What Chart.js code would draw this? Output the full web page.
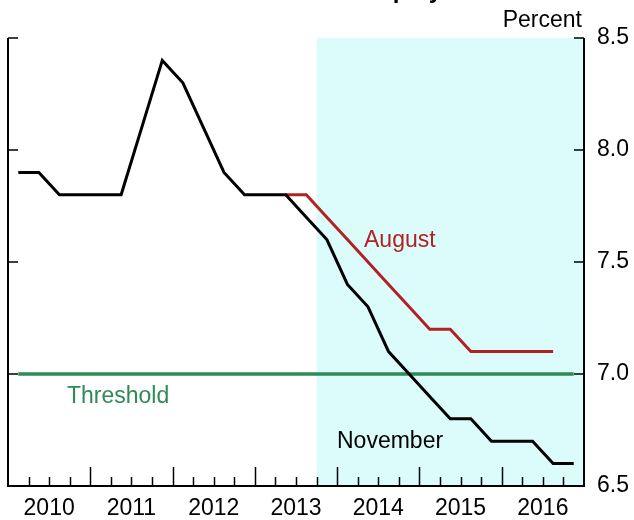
<!DOCTYPE html>
<html>
<head>
<meta charset="utf-8">
<script src="https://cdn.jsdelivr.net/npm/chart.js@4"></script>
<style>
  html, body { margin: 0; padding: 0; background: #fff; }
  canvas { display: block; }
</style>
</head>
<body>
<canvas id="unemployment-chart" width="634" height="520"></canvas>
<script>
// Quarterly unemployment rate, 2010:Q1 - 2016:Q4
const years = ['2010', '2011', '2012', '2013', '2014', '2015', '2016'];
const yTicks = [6.5, 7.0, 7.5, 8.0, 8.5];

const november = [
    7.9, 7.9, 7.8, 7.8,   // 2010
    7.8, 7.8, 8.1, 8.4,   // 2011
    8.3, 8.1, 7.9, 7.8,   // 2012
    7.8, 7.8, 7.7, 7.6,   // 2013
    7.4, 7.3, 7.1, 7.0,   // 2014
    6.9, 6.8, 6.8, 6.7,   // 2015
    6.7, 6.7, 6.6, 6.6    // 2016
];
const august = [
    null, null, null, null,
    null, null, null, null,
    null, null, null, null,
    null, 7.8, 7.8, 7.7,
    7.6, 7.5, 7.4, 7.3,
    7.2, 7.2, 7.1, 7.1,
    7.1, 7.1, 7.1
];
const threshold = [
    7.0, 7.0, 7.0, 7.0, 7.0, 7.0, 7.0,
    7.0, 7.0, 7.0, 7.0, 7.0, 7.0, 7.0,
    7.0, 7.0, 7.0, 7.0, 7.0, 7.0, 7.0,
    7.0, 7.0, 7.0, 7.0, 7.0, 7.0, 7.0
];
const projectionStart = 15; // 2013:Q4, first quarter of the shaded period

const nQuarters = years.length * 4;
const FONT = "'Liberation Sans', Arial, Helvetica, sans-serif";

// put each quarter's value in the middle of its quarter
function toPoints(series) {
    return series.map((v, i) => ({ x: i + 0.5, y: v }));
}

const chartFrame = {
    id: 'chartFrame',
    beforeDatasetsDraw(chart) {
        const { ctx, chartArea: a, scales: { x } } = chart;
        const x0 = x.getPixelForValue(projectionStart);
        ctx.save();
        ctx.fillStyle = '#dcfcfc';
        ctx.fillRect(x0, a.top, a.right - x0, a.bottom - a.top);
        ctx.restore();
    },
    afterDatasetsDraw(chart) {
        const { ctx, chartArea: a, scales: { x, y } } = chart;
        ctx.save();
        ctx.strokeStyle = '#000';
        ctx.fillStyle = '#000';

        // left, bottom and right axis lines
        ctx.lineWidth = 2;
        ctx.beginPath();
        ctx.moveTo(a.left, a.top);
        ctx.lineTo(a.left, a.bottom);
        ctx.lineTo(a.right, a.bottom);
        ctx.lineTo(a.right, a.top);
        ctx.stroke();

        // inward ticks on both value axes
        ctx.lineWidth = 1.5;
        yTicks.forEach(t => {
            const py = Math.round(y.getPixelForValue(t));
            ctx.beginPath();
            ctx.moveTo(a.left, py);
            ctx.lineTo(a.left + 10, py);
            ctx.moveTo(a.right, py);
            ctx.lineTo(a.right - 10, py);
            ctx.stroke();
        });

        // quarter ticks, longer at each year boundary
        for (let q = 1; q < nQuarters; q++) {
            const px = Math.round(x.getPixelForValue(q)) + 0.5;
            const len = q % 4 === 0 ? 19 : 9;
            ctx.beginPath();
            ctx.moveTo(px, a.bottom);
            ctx.lineTo(px, a.bottom - len);
            ctx.stroke();
        }

        // year labels
        ctx.font = '23px ' + FONT;
        ctx.textAlign = 'center';
        ctx.textBaseline = 'alphabetic';
        years.forEach((yr, i) => {
            ctx.fillText(yr, x.getPixelForValue(i * 4 + 2), 515);
        });

        // value labels on the right
        ctx.textAlign = 'left';
        ctx.textBaseline = 'middle';
        yTicks.forEach(t => {
            ctx.fillText(t.toFixed(1), a.right + 13, y.getPixelForValue(t));
        });

        ctx.textAlign = 'right';
        ctx.textBaseline = 'alphabetic';
        ctx.fillText('Percent', a.right - 2, 27);

        // title, mostly above the top edge
        ctx.font = 'bold 24px ' + FONT;
        ctx.textAlign = 'left';
        ctx.fillText('Unemployment Rate', 326, -2);

        // series labels
        ctx.font = '23px ' + FONT;
        ctx.fillStyle = '#b22222';
        ctx.fillText('August', 364, 247);
        ctx.fillStyle = '#000';
        ctx.fillText('November', 337, 448);
        ctx.fillStyle = '#2e8b57';
        ctx.fillText('Threshold', 67, 403);
        ctx.restore();
    }
};

const canvas = document.getElementById('unemployment-chart');
const unemploymentChart = new Chart(canvas, {
    type: 'line',
    data: {
        datasets: [
            {
                label: 'November',
                data: toPoints(november),
                borderColor: '#000',
                borderWidth: 3,
            },
            {
                label: 'August',
                data: toPoints(august),
                borderColor: '#b22222',
                borderWidth: 3,
            },
            {
                label: 'Threshold',
                data: toPoints(threshold),
                borderColor: '#2e8b57',
                borderWidth: 3.5,
            }
        ]
    },
    options: {
        responsive: false,
        animation: false,
        devicePixelRatio: 1,
        layout: { padding: { left: 8, right: 50, top: 38, bottom: 34 } },
        elements: {
            point: { radius: 0, hoverRadius: 0 },
            line: { tension: 0, fill: false }
        },
        scales: {
            x: { type: 'linear', min: 0, max: nQuarters, display: false },
            y: { min: 6.5, max: 8.5, display: false }
        },
        plugins: {
            legend: { display: false },
            tooltip: { enabled: false }
        }
    },
    plugins: [chartFrame]
});
</script>
</body>
</html>
